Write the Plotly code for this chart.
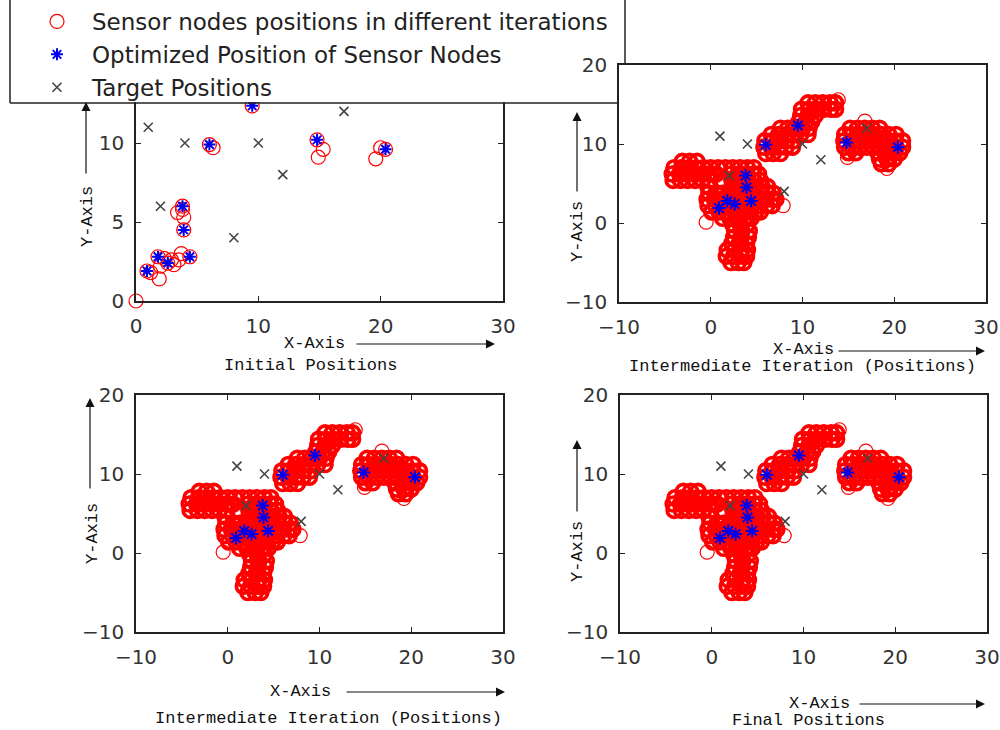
import plotly.graph_objects as go

W, H = 1000, 730

# Target positions (gray crosses), same in every panel
target_x = [1, 4, 10, 2, 8, 12, 17]
target_y = [11, 10, 10, 6, 4, 8, 12]

# Optimized positions of the sensor nodes (blue stars)
node_x = [0.9, 1.8, 2.6, 4.4, 3.9, 3.8, 6.0, 9.5, 14.8, 20.4]
node_y = [1.9, 2.8, 2.4, 2.8, 4.5, 6.0, 9.9, 12.35, 10.2, 9.6]

# Initial sensor node positions (red circles, first panel)
init_x = [0.0, 0.9, 1.2, 1.8, 1.9, 2.0, 2.3, 2.6, 2.9, 3.1, 3.5, 3.7, 4.4,
          3.9, 3.8, 3.4, 3.9, 3.8, 6.0, 6.3, 9.5, 14.8, 15.3, 14.9, 20.4, 20.0, 19.6]
init_y = [0.0, 1.9, 1.8, 2.8, 1.4, 2.2, 2.7, 2.4, 2.6, 2.3, 2.6, 3.0, 2.8,
          4.5, 6.0, 5.6, 5.3, 5.8, 9.9, 9.7, 12.35, 10.2, 9.6, 9.1, 9.6, 9.7, 9.0]

# Sensor positions visited during the iterations, row by row  {y: [x, ...]}
cluster_a_rows = {
    7.8: [-3.1, -2.3, -1.5],
    7.0: [-4.0, -3.2, -2.4, -1.6, -0.8, 0.0, 0.8, 1.6, 2.4, 3.2, 4.0, 4.7],
    6.2: [-4.2, -3.4, -2.6, -1.8, -1.0, -0.2, 0.6, 2.2, 3.0, 3.8, 4.6, 5.2],
    5.4: [-4.1, -3.3, -2.5, -1.7, -0.9, -0.1, 2.3, 3.1, 3.9, 4.7, 5.4],
    5.2: [1.35],
    4.6: [-0.3, 2.5, 3.3, 4.1, 4.9, 5.6, 6.2],
    3.8: [-0.2, 0.6, 1.4, 2.2, 3.0, 3.8, 4.6, 5.4, 6.2, 6.8],
    3.0: [-0.4, 0.4, 1.2, 2.0, 2.8, 3.6, 4.4, 5.2, 6.0, 6.7, 7.1],
    2.2: [-0.3, 0.5, 1.3, 2.1, 2.9, 3.7, 4.5, 5.3, 6.1, 6.7],
    1.4: [0.1, 0.9, 1.7, 2.5, 3.3, 4.1, 4.9, 5.4],
    0.6: [1.3, 2.1, 2.9, 3.7, 4.4],
    -0.2: [2.4, 3.2, 4.0],
    -1.0: [2.6, 3.4, 4.2],
    -1.8: [2.5, 3.3, 4.1],
    -2.6: [2.3, 3.1, 3.9],
    -3.4: [1.8, 2.6, 3.4, 4.0],
    -4.2: [1.7, 2.5, 3.3, 3.9],
    -5.0: [2.2, 3.0, 3.6],
}
cluster_b_rows = {
    8.8: [6.0, 6.8, 7.6],
    9.6: [5.8, 6.6, 7.4, 8.2, 8.9],
    10.4: [5.9, 6.7, 7.5, 8.3, 9.0],
    11.2: [6.6, 7.4, 8.2, 9.0, 9.8, 10.6],
    12.0: [7.6, 8.4, 9.2, 10.0, 10.7],
    12.8: [9.6, 10.4, 11.0],
    13.6: [9.8, 10.6, 11.4],
    14.4: [9.9, 10.7, 11.5, 12.3, 13.1, 13.6],
    15.2: [10.6, 11.4, 12.2, 13.0, 13.6],
}
cluster_c_rows = {
    12.0: [15.2, 16.0, 16.8, 17.6, 18.4],
    11.2: [14.6, 15.4, 16.2, 17.0, 17.8, 18.6, 19.4, 20.2],
    10.4: [14.5, 15.3, 16.1, 16.9, 17.7, 18.5, 19.3, 20.1, 20.9],
    9.6: [14.6, 15.4, 16.2, 17.0, 17.8, 18.6, 19.4, 20.2, 20.9],
    8.9: [15.0, 15.8, 18.2, 19.0, 19.8, 20.6],
    8.1: [18.4, 19.2, 20.0],
    7.5: [18.6, 19.4],
}
# isolated positions around the clusters
stray_x = [-0.5, 7.9, 16.8, 14.9, 19.2, 13.9]
stray_y = [0.1, 2.2, 12.9, 8.3, 6.9, 15.6]

iter_x, iter_y = [], []
for rows in (cluster_a_rows, cluster_b_rows, cluster_c_rows):
    for yv, xs in rows.items():
        iter_x.extend(xs)
        iter_y.extend([yv] * len(xs))

panel_titles = ["Initial Positions", "Intermediate Iteration (Positions)",
                "Intermediate Iteration (Positions)", "Final Positions"]

MONO = "Liberation Mono"
SANS = "DejaVu Sans"


def px(x):
    return x / W


def py(y):
    return 1 - y / H


# panel boxes in pixels: (left, right, top, bottom)
boxes = [(136, 503, 64, 301), (619, 986, 65, 302),
         (136, 503, 395, 632), (620, 987, 395, 632)]
xranges = [[0, 30], [-10, 30], [-10, 30], [-10, 30]]
yranges = [[0, 15], [-10, 20], [-10, 20], [-10, 20]]
xticks = [[0, 10, 20, 30], [-10, 0, 10, 20, 30], [-10, 0, 10, 20, 30], [-10, 0, 10, 20, 30]]
yticks = [[0, 5, 10], [-10, 0, 10, 20], [-10, 0, 10, 20], [-10, 0, 10, 20]]

thin_circle = dict(symbol="circle-open", size=14, color="red", line=dict(width=1.2, color="red"))

fig = go.Figure()
layout = {}
for i in range(4):
    sfx = "" if i == 0 else str(i + 1)
    xa, ya = "x" + sfx, "y" + sfx
    first = i == 0
    if first:
        fig.add_trace(go.Scatter(
            x=init_x, y=init_y, mode="markers", xaxis=xa, yaxis=ya, marker=thin_circle,
            name="Sensor nodes positions in different iterations",
            showlegend=True, cliponaxis=False))
    else:
        fig.add_trace(go.Scatter(
            x=stray_x, y=stray_y, mode="markers", xaxis=xa, yaxis=ya, marker=thin_circle,
            showlegend=False, cliponaxis=False))
        fig.add_trace(go.Scatter(
            x=iter_x, y=iter_y, mode="markers", xaxis=xa, yaxis=ya,
            marker=dict(symbol="circle-open", size=14, color="red",
                        line=dict(width=3.6, color="red")),
            showlegend=False, cliponaxis=False))
    fig.add_trace(go.Scatter(
        x=node_x, y=node_y, mode="markers", xaxis=xa, yaxis=ya,
        marker=dict(symbol="asterisk-open", size=10 if first else 11, color="#0000ee",
                    line=dict(width=2, color="#0000ee")),
        name="Optimized Position of Sensor Nodes", showlegend=first, cliponaxis=False))
    fig.add_trace(go.Scatter(
        x=target_x, y=target_y, mode="markers", xaxis=xa, yaxis=ya,
        marker=dict(symbol="x-thin-open", size=9, color="#444",
                    line=dict(width=1.6, color="#444")),
        name="Target Positions", showlegend=first, cliponaxis=False))

    l, r, t, b = boxes[i]
    common = dict(showgrid=False, zeroline=False, showline=True, linecolor="#222",
                  linewidth=1.5, mirror="ticks", ticks="inside", ticklen=5,
                  tickcolor="#222", tickwidth=1.2,
                  tickfont=dict(family=SANS, size=20, color="#333"),
                  ticklabelstandoff=6)
    layout["xaxis" + sfx] = dict(domain=[px(l), px(r)], range=xranges[i],
                                 tickvals=xticks[i], anchor=ya, **common)
    layout["yaxis" + sfx] = dict(domain=[py(b), py(t)], range=yranges[i],
                                 tickvals=yticks[i], anchor=xa, **common)

annotations = []


def text(x, y, s, angle=0):
    annotations.append(dict(x=px(x), y=py(y), xref="paper", yref="paper", text=s,
                            showarrow=False, textangle=angle,
                            font=dict(family=MONO, size=17, color="#111"),
                            xanchor="center", yanchor="middle"))


def arrow(hx, hy, tx, ty):
    annotations.append(dict(x=px(hx), y=py(hy), xref="paper", yref="paper", text="",
                            showarrow=True, ax=tx - hx, ay=ty - hy, axref="pixel",
                            ayref="pixel", arrowhead=2, arrowsize=1.5, arrowwidth=1.2,
                            arrowcolor="#111", standoff=0, startstandoff=0))


# x-axis captions with arrows, and panel subtitles
x_label_pos = [(314, 343, 355, 495), (803, 350, 837, 985),
               (300, 691, 345, 505), (819, 703, 858, 985)]
sub_pos = [(310, 365), (802, 366), (328, 718), (808, 720)]
for i in range(4):
    cx, cy, a0, a1 = x_label_pos[i]
    text(cx, cy, "X-Axis")
    arrow(a1, cy + 1, a0, cy + 1)
    sx, sy = sub_pos[i]
    text(sx, sy, panel_titles[i])

# y-axis captions with arrows
y_label_pos = [(88, 217, 102, 175), (577, 232, 112, 193),
               (92, 534, 398, 490), (577, 552, 440, 513)]
for cx, cy, head, tail in y_label_pos:
    text(cx, cy, "Y-Axis", angle=-90)
    ax_x = cx - 2 if cx < 100 else cx
    arrow(ax_x, head, ax_x, tail)

shapes = [
    # white panel behind the legend
    dict(type="rect", xref="paper", yref="paper", x0=px(95), x1=px(560),
         y0=py(102), y1=py(-5), fillcolor="white", line=dict(width=0), layer="above"),
    # legend frame
    dict(type="line", xref="paper", yref="paper", x0=px(10), x1=px(10),
         y0=py(-5), y1=py(103), line=dict(color="#222", width=1.5), layer="above"),
    dict(type="line", xref="paper", yref="paper", x0=px(10), x1=px(619),
         y0=py(103), y1=py(103), line=dict(color="#222", width=1.5), layer="above"),
    dict(type="line", xref="paper", yref="paper", x0=px(625), x1=px(625),
         y0=py(-5), y1=py(65), line=dict(color="#222", width=1.5), layer="above"),
]

fig.update_layout(
    width=W, height=H, margin=dict(l=0, r=0, t=0, b=0, autoexpand=False),
    paper_bgcolor="white", plot_bgcolor="white",
    showlegend=True,
    legend=dict(x=px(22), y=py(0), xanchor="left", yanchor="top",
                bgcolor="rgba(0,0,0,0)", borderwidth=0, itemwidth=60,
                font=dict(family=SANS, size=23, color="#222")),
    annotations=annotations, shapes=shapes, **layout)

fig.write_html("out.html")
